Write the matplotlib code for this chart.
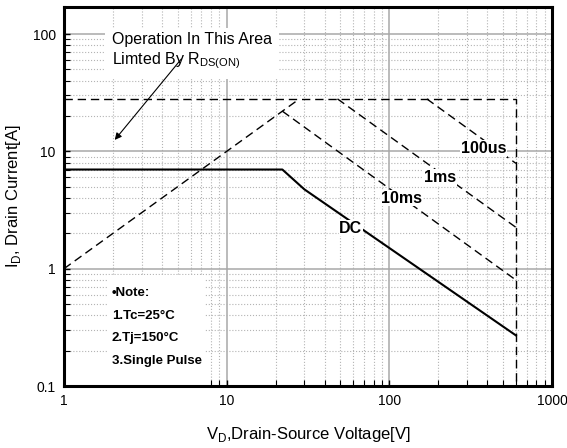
import numpy as np
import matplotlib.pyplot as plt

plt.rcParams['font.family'] = ['Liberation Sans', 'DejaVu Sans']
plt.rcParams['mathtext.fontset'] = 'custom'
plt.rcParams['mathtext.rm'] = 'Liberation Sans'
plt.rcParams['mathtext.bf'] = 'Liberation Sans:bold'

# SOA curves (V, A)
dc_v = [1, 22, 30, 600]
dc_i = [7, 7, 4.75, 0.27]
rds_v = [1, 28]
rds_i = [1, 28]
limit_v = [1, 600, 600]
limit_i = [28, 28, 0.1]
ms10_v = [22, 600]
ms10_i = [22, 0.8]
ms1_v = [48, 600]
ms1_i = [28, 2.25]
us100_v = [170, 600]
us100_i = [28, 7.9]

# curve labels: (text, V, I)
curve_labels = [("100us", 381, 10.6), ("1ms", 205, 6.0), ("10ms", 118, 4.0), ("DC", 58, 2.22)]
note_lines = ["\u2022Note:", "1.Tc=25\u00b0C", "2.Tj=150\u00b0C", "3.Single Pulse"]

fig = plt.figure(figsize=(5.67, 4.48), dpi=100)
ax = fig.add_axes([64 / 567, 1 - 386 / 448, 488 / 567, 379 / 448])
ax.set_xscale('log')
ax.set_yscale('log')
ax.set_xlim(1, 1000)
ax.set_ylim(0.1, 170)

# grid
ax.grid(which='major', color='#a8a8a8', linestyle='-', linewidth=1.1, zorder=0)
ax.grid(which='minor', color='#b4b4b4', linestyle=':', linewidth=0.8, zorder=0)
ax.set_axisbelow(True)

dash = (0, (6, 3.5))
ax.plot(limit_v, limit_i, color='black', linestyle=dash, linewidth=1.0, zorder=3)
ax.plot(rds_v, rds_i, color='black', linestyle=dash, linewidth=1.0, zorder=3)
ax.plot(ms10_v, ms10_i, color='black', linestyle=dash, linewidth=1.0, zorder=3)
ax.plot(ms1_v, ms1_i, color='black', linestyle=dash, linewidth=1.0, zorder=3)
ax.plot(us100_v, us100_i, color='black', linestyle=dash, linewidth=1.0, zorder=3)
ax.plot(dc_v, dc_i, color='black', linestyle='-', linewidth=1.5, zorder=3)

for txt, v, i in curve_labels:
    ax.text(v, i, txt, fontsize=11.5, fontweight='bold', ha='center', va='center', zorder=4,
            bbox=dict(facecolor='white', edgecolor='none', pad=0.5))

# R_DS(on) annotation
ax.text(0.0985, 0.935, "Operation In This Area\nLimted By R$_{\\mathrm{DS(ON)}}$",
        transform=ax.transAxes, fontsize=11.5, ha='left', va='top', linespacing=1.3, zorder=4,
        bbox=dict(facecolor='white', edgecolor='none', boxstyle='square,pad=0.45'))
ax.annotate('', xy=(2.0, 12), xytext=(5.4, 64),
            arrowprops=dict(arrowstyle='-|>', color='black', lw=0.8, mutation_scale=10), zorder=5)

# note box
ax.add_patch(plt.Rectangle((44 / 488, 0), 97 / 488, 111 / 379, transform=ax.transAxes,
                           facecolor='white', edgecolor='none', zorder=2))
for k, line in enumerate(note_lines):
    ax.text(48 / 488, (386 - 293 - k * 22.6) / 379, line, transform=ax.transAxes,
            fontsize=9.5, fontweight='bold', ha='left', va='center', zorder=4)

ax.set_xticks([1, 10, 100, 1000])
ax.set_xticklabels(['1', '10', '100', '1000'])
ax.set_yticks([0.1, 1, 10, 100])
ax.set_yticklabels(['0.1', '1', '10', '100'])
ax.tick_params(which='both', direction='in', color='black', labelsize=10)
ax.tick_params(which='major', length=4, width=1, pad=6)
ax.tick_params(which='minor', length=4, width=0.8)
for s in ax.spines.values():
    s.set_linewidth(2.2)

ax.set_xlabel("V$_{\\mathrm{D}}$,Drain-Source Voltage[V]", fontsize=12, labelpad=12)
ax.set_ylabel("I$_{\\mathrm{D}}$, Drain Current[A]", fontsize=12)
ax.yaxis.set_label_coords(-0.084, 0.5)

fig.savefig('out.png', dpi=100)
